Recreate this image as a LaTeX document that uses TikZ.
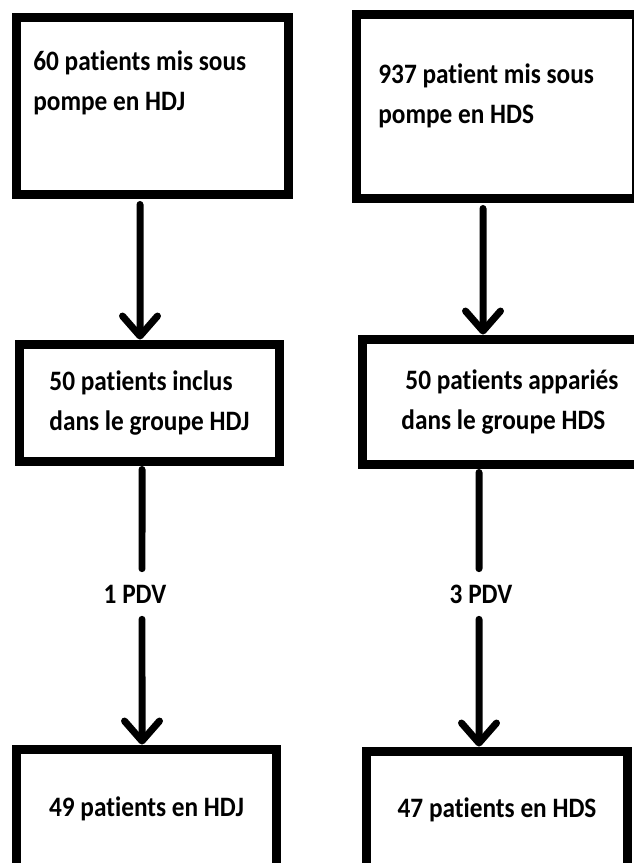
\documentclass[tikz,border=0pt]{standalone}
\usepackage{fontspec}
\setmainfont{Carlito}[Ligatures=NoCommon,FakeStretch=0.9]
\usetikzlibrary{positioning,calc,arrows.meta}

\begin{document}
\begin{tikzpicture}[x=0.02cm,y=-0.02cm,
    box/.style={rectangle,draw,line width=0.18cm,inner sep=0pt,align=left,
        font=\bfseries\fontsize{16}{23}\selectfont},
    txt/.style={inner sep=0pt,align=left,font=\bfseries\fontsize{16}{23}\selectfont},
    lbl/.style={inner sep=0pt,minimum height=1cm,font=\bfseries\fontsize{16}{23}\selectfont},
    edge/.style={line width=0.14cm,line cap=round},
    arr/.style={edge,-{Straight Barb[length=0.4cm,width=0.7cm,line cap=round,line join=round]}}]

    \useasboundingbox (0,0) rectangle (634,863);
    \clip (0,0) rectangle (634,863);

    %--------------------------------------------
    % Boxes
    \node[box,minimum width=5.46cm,minimum height=3.56cm] (b1) at (152.5,106) {};
    \node[txt,anchor=north west] (t1) at (33,50) {60 patients mis sous\\pompe en HDJ};

    \node[box,minimum width=5.62cm,minimum height=3.7cm] (b2) at (496.5,106.5) {};
    \node[txt,anchor=north west] (t2) at (378,63) {937 patient mis sous\\pompe en HDS};

    \node[box,minimum width=5.22cm,minimum height=2.36cm] (b3) at (149.5,403)
        {50 patients inclus\\dans le groupe HDJ};

    \node[box,minimum width=5.92cm,minimum height=2.52cm] (b4) at (510,402)
        {\hspace*{0.08cm}50 patients appariés\\dans le groupe HDS};

    \node[box,minimum width=5.22cm,minimum height=2.38cm] (b5) at (146.5,808.5)
        {49 patients en HDJ};

    \node[box,minimum width=5.24cm,minimum height=2.36cm] (b6) at (497,810)
        {47 patients en HDS};

    %--------------------------------------------
    % Labels
    \node[lbl] (pdv1) at (135,594) {1 PDV};
    \node[lbl] (pdv2) at (481,594) {3 PDV};

    %--------------------------------------------
    % Edges
    \draw[arr,shorten <=0.1cm] ([xshift=-0.25cm]b1.south) -- ([xshift=-0.19cm]b3.north);
    \draw[arr,shorten <=0.1cm] ([xshift=-0.27cm]b2.south) -- ([xshift=-0.54cm]b4.north);

    \draw[edge,shorten <=0.06cm] ([xshift=-0.15cm]b3.south) -- ([xshift=0.14cm]pdv1.north);
    \draw[arr] ([xshift=0.14cm]pdv1.south) -- ([xshift=-0.09cm]b5.north);

    \draw[edge,shorten <=0.06cm] ([xshift=-0.62cm]b4.south) -- ([xshift=-0.04cm]pdv2.north);
    \draw[arr] ([xshift=-0.04cm]pdv2.south) -- ([xshift=-0.36cm]b6.north);
\end{tikzpicture}
\end{document}
